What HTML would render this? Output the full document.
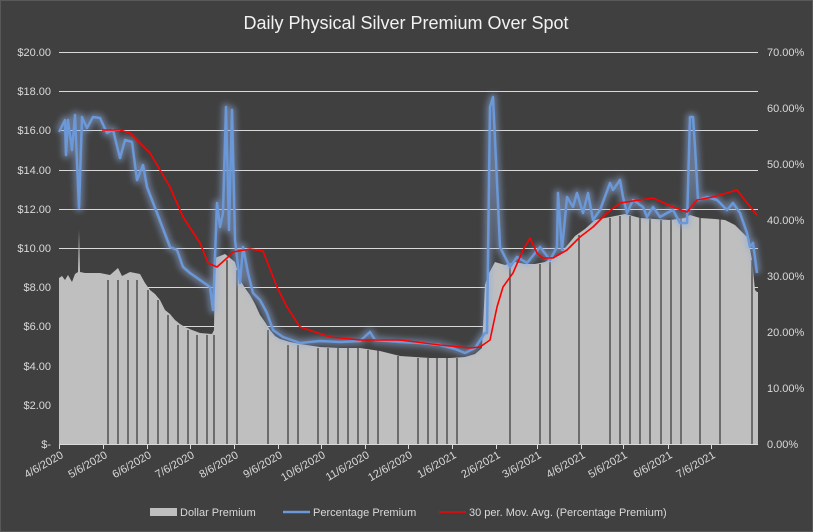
<!DOCTYPE html>
<html><head><meta charset="utf-8"><style>
html,body{margin:0;padding:0;background:#404040;}
svg{display:block;font-family:"Liberation Sans",sans-serif;}
</style></head><body>
<svg width="813" height="532" viewBox="0 0 813 532">
<defs>
<filter id="glow" x="-10%" y="-10%" width="120%" height="120%"><feGaussianBlur stdDeviation="3"/></filter>
</defs>
<rect x="0.5" y="0.5" width="812" height="531" fill="#404040" stroke="#595959"/>
<text x="406" y="29" fill="#f2f2f2" font-size="18" text-anchor="middle">Daily Physical Silver Premium Over Spot</text>
<g stroke="#d9d9d9" stroke-width="1">
<line x1="59" x2="758" y1="52.5" y2="52.5"/><line x1="59" x2="758" y1="91.5" y2="91.5"/>
<line x1="59" x2="758" y1="130.5" y2="130.5"/><line x1="59" x2="758" y1="170.5" y2="170.5"/>
<line x1="59" x2="758" y1="209.5" y2="209.5"/><line x1="59" x2="758" y1="248.5" y2="248.5"/>
<line x1="59" x2="758" y1="287.5" y2="287.5"/><line x1="59" x2="758" y1="326.5" y2="326.5"/>
<line x1="59" x2="758" y1="366.5" y2="366.5"/><line x1="59" x2="758" y1="405.5" y2="405.5"/>
</g>
<polygon fill="#bfbfbf" points="59,444 59,278 62,276 65,280 68,275 72,282 75,274 78,272 79,230 80,272 85,273 100,273 110,275 118,268 122,276 130,272 140,274 145,283 150,290 155,294 160,300 165,310 170,314 175,320 180,324 185,327 192,330 200,333 212,334 214,330 215,258 220,256 225,254 230,258 235,262 240,280 245,288 250,295 255,304 260,315 265,322 270,330 275,336 280,339 290,342 300,344 320,347 340,348 360,348 380,351 400,356 430,358 450,358 465,357 475,354 482,348 485,285 488,275 495,262 505,265 515,262 525,264 535,264 545,262 555,256 560,255 565,248 575,236 585,229 595,220 605,218 615,216 625,214 640,218 655,219 670,220 685,218 690,215 700,218 715,219 725,220 735,225 742,232 748,238 752,260 755,290 757,292 758,292 758,444"/>
<g stroke="#404040" stroke-width="1.3">
<line x1="108" x2="108" y1="444" y2="280"/><line x1="118" x2="118" y1="444" y2="280"/><line x1="128" x2="128" y1="444" y2="280"/>
<line x1="137" x2="137" y1="444" y2="280"/><line x1="148" x2="148" y1="444" y2="290"/><line x1="158" x2="158" y1="444" y2="300"/>
<line x1="168" x2="168" y1="444" y2="315"/><line x1="178" x2="178" y1="444" y2="325"/><line x1="188" x2="188" y1="444" y2="330"/>
<line x1="197" x2="197" y1="444" y2="335"/><line x1="207" x2="207" y1="444" y2="335"/><line x1="214" x2="214" y1="444" y2="335"/>
<line x1="227" x2="227" y1="444" y2="260"/><line x1="237" x2="237" y1="444" y2="270"/><line x1="268" x2="268" y1="444" y2="330"/>
<line x1="288" x2="288" y1="444" y2="345"/><line x1="298" x2="298" y1="444" y2="345"/><line x1="318" x2="318" y1="444" y2="348"/>
<line x1="328" x2="328" y1="444" y2="348"/><line x1="338" x2="338" y1="444" y2="348"/><line x1="348" x2="348" y1="444" y2="348"/>
<line x1="358" x2="358" y1="444" y2="348"/><line x1="368" x2="368" y1="444" y2="350"/><line x1="378" x2="378" y1="444" y2="350"/>
<line x1="398" x2="398" y1="444" y2="356"/><line x1="418" x2="418" y1="444" y2="358"/><line x1="428" x2="428" y1="444" y2="358"/>
<line x1="437" x2="437" y1="444" y2="358"/><line x1="447" x2="447" y1="444" y2="358"/><line x1="457" x2="457" y1="444" y2="358"/>
<line x1="510" x2="510" y1="444" y2="265"/><line x1="540" x2="540" y1="444" y2="264"/><line x1="550" x2="550" y1="444" y2="262"/>
<line x1="579" x2="579" y1="444" y2="235"/><line x1="610" x2="610" y1="444" y2="218"/><line x1="620" x2="620" y1="444" y2="216"/>
<line x1="630" x2="630" y1="444" y2="216"/><line x1="640" x2="640" y1="444" y2="218"/><line x1="650" x2="650" y1="444" y2="219"/>
<line x1="661" x2="661" y1="444" y2="220"/><line x1="671" x2="671" y1="444" y2="220"/><line x1="681" x2="681" y1="444" y2="218"/>
<line x1="700" x2="700" y1="444" y2="218"/><line x1="720" x2="720" y1="444" y2="219"/><line x1="752" x2="752" y1="444" y2="260"/>
</g>
<g fill="none" stroke-linejoin="round">
<polyline id="bl" stroke="#8eaadb" stroke-width="8" opacity="0.5" filter="url(#glow)" points="59,132 65,120 66,155 68,120 72,150 75,115 79,208 82,117 87,128 93,117 100,118 107,133 113,130 120,158 125,140 132,142 137,180 143,165 147,187 157,213 170,247 177,250 183,267 190,273 200,280 210,287 213,310 217,203 220,227 223,213 226,107 229,230 232,110 235,240 240,283 243,247 248,273 253,293 260,300 267,313 273,330 283,337 300,343 320,341 340,342 360,341 370,332 375,340 400,342 420,343 440,345 455,349 465,353 475,348 485,333 487,333 490,107 493,97 500,247 510,267 517,257 527,263 540,247 550,260 557,247 558,193 562,250 567,197 573,207 577,193 583,213 588,193 593,220 600,210 610,183 613,190 620,180 623,197 627,213 633,200 643,207 647,217 653,207 660,217 667,213 673,210 680,223 687,223 690,117 693,117 695,147 698,200 707,197 717,200 727,210 733,203 740,213 747,233 750,247 753,243 757,273"/>
<polyline stroke="#6a98d8" stroke-width="2.5" points="59,132 65,120 66,155 68,120 72,150 75,115 79,208 82,117 87,128 93,117 100,118 107,133 113,130 120,158 125,140 132,142 137,180 143,165 147,187 157,213 170,247 177,250 183,267 190,273 200,280 210,287 213,310 217,203 220,227 223,213 226,107 229,230 232,110 235,240 240,283 243,247 248,273 253,293 260,300 267,313 273,330 283,337 300,343 320,341 340,342 360,341 370,332 375,340 400,342 420,343 440,345 455,349 465,353 475,348 485,333 487,333 490,107 493,97 500,247 510,267 517,257 527,263 540,247 550,260 557,247 558,193 562,250 567,197 573,207 577,193 583,213 588,193 593,220 600,210 610,183 613,190 620,180 623,197 627,213 633,200 643,207 647,217 653,207 660,217 667,213 673,210 680,223 687,223 690,117 693,117 695,147 698,200 707,197 717,200 727,210 733,203 740,213 747,233 750,247 753,243 757,273"/>
<polyline stroke="#ff0000" stroke-width="1.6" points="102,130 120,130 130,133 150,153 160,170 170,187 183,217 200,243 208,263 217,267 227,258 233,252 250,249 263,251 277,287 287,307 300,327 330,337 360,340 400,340 440,345 470,348 480,347 490,340 497,307 503,287 513,273 523,250 530,238 537,253 543,258 553,258 567,250 580,237 593,227 607,213 620,203 640,200 653,198 673,207 687,212 697,200 713,197 737,190 747,203 757,215"/>
</g>
<line x1="59" x2="758" y1="444.5" y2="444.5" stroke="#d9d9d9"/>
<g stroke="#d9d9d9"><line x1="59.5" x2="59.5" y1="444" y2="449"/><line x1="103.5" x2="103.5" y1="444" y2="449"/><line x1="147.5" x2="147.5" y1="444" y2="449"/><line x1="190.5" x2="190.5" y1="444" y2="449"/><line x1="234.5" x2="234.5" y1="444" y2="449"/><line x1="278.5" x2="278.5" y1="444" y2="449"/><line x1="321.5" x2="321.5" y1="444" y2="449"/><line x1="365.5" x2="365.5" y1="444" y2="449"/><line x1="408.5" x2="408.5" y1="444" y2="449"/><line x1="452.5" x2="452.5" y1="444" y2="449"/><line x1="496.5" x2="496.5" y1="444" y2="449"/><line x1="537.5" x2="537.5" y1="444" y2="449"/><line x1="581.5" x2="581.5" y1="444" y2="449"/><line x1="623.5" x2="623.5" y1="444" y2="449"/><line x1="668.5" x2="668.5" y1="444" y2="449"/><line x1="711.5" x2="711.5" y1="444" y2="449"/></g>
<g fill="#d9d9d9" font-size="11" text-anchor="end">
<text x="51" y="56">$20.00</text><text x="51" y="95">$18.00</text><text x="51" y="134">$16.00</text><text x="51" y="174">$14.00</text><text x="51" y="213">$12.00</text><text x="51" y="252">$10.00</text><text x="51" y="291">$8.00</text><text x="51" y="330">$6.00</text><text x="51" y="370">$4.00</text><text x="51" y="409">$2.00</text><text x="51" y="448">$-</text>
</g>
<g fill="#d9d9d9" font-size="11">
<text x="767" y="56">70.00%</text><text x="767" y="112">60.00%</text><text x="767" y="168">50.00%</text><text x="767" y="224">40.00%</text><text x="767" y="280">30.00%</text><text x="767" y="336">20.00%</text><text x="767" y="392">10.00%</text><text x="767" y="448">0.00%</text>
</g>
<g fill="#d9d9d9" font-size="11" text-anchor="end">
<text transform="translate(64,457) rotate(-30)">4/6/2020</text><text transform="translate(108,457) rotate(-30)">5/6/2020</text><text transform="translate(152,457) rotate(-30)">6/6/2020</text><text transform="translate(195,457) rotate(-30)">7/6/2020</text><text transform="translate(239,457) rotate(-30)">8/6/2020</text><text transform="translate(283,457) rotate(-30)">9/6/2020</text><text transform="translate(326,457) rotate(-30)">10/6/2020</text><text transform="translate(370,457) rotate(-30)">11/6/2020</text><text transform="translate(413,457) rotate(-30)">12/6/2020</text><text transform="translate(457,457) rotate(-30)">1/6/2021</text><text transform="translate(501,457) rotate(-30)">2/6/2021</text><text transform="translate(542,457) rotate(-30)">3/6/2021</text><text transform="translate(586,457) rotate(-30)">4/6/2021</text><text transform="translate(628,457) rotate(-30)">5/6/2021</text><text transform="translate(673,457) rotate(-30)">6/6/2021</text><text transform="translate(716,457) rotate(-30)">7/6/2021</text>
</g>
<rect x="150" y="508" width="27" height="8" fill="#bfbfbf"/>
<text x="180" y="516" fill="#d9d9d9" font-size="11">Dollar Premium</text>
<line x1="283" x2="310" y1="512" y2="512" stroke="#6a98d8" stroke-width="2.5"/>
<text x="313" y="516" fill="#d9d9d9" font-size="11">Percentage Premium</text>
<line x1="439" x2="466" y1="512" y2="512" stroke="#ff0000" stroke-width="1.6"/>
<text x="469" y="516" fill="#d9d9d9" font-size="11">30 per. Mov. Avg. (Percentage Premium)</text>
</svg>
</body></html>
